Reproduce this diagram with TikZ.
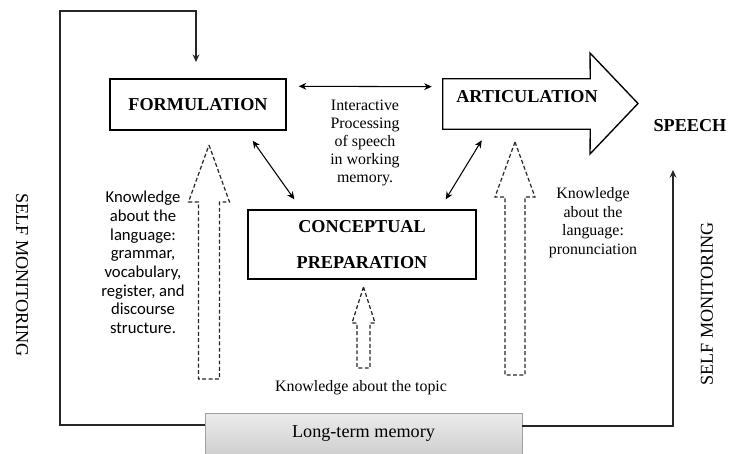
\documentclass[tikz,border=0pt]{standalone}
\usepackage{fontspec}
\setmainfont{Liberation Serif}
\newfontfamily\calibri{Carlito}
\usetikzlibrary{positioning,calc,arrows.meta}

\begin{document}
\begin{tikzpicture}[x=0.66pt,y=-0.66pt,
		stagebox/.style={rectangle, draw=black, line width=0.9pt, inner sep=2pt, font=\fontsize{12}{14}\selectfont\bfseries},
		bigtext/.style={font=\fontsize{12}{14}\selectfont},
		note/.style={align=center, inner sep=0pt, font=\fontsize{10.5}{11.8}\selectfont},
		dbl/.style={{Stealth[length=5pt,width=4.5pt]}-{Stealth[length=5pt,width=4.5pt]}, line width=0.7pt},
		loopline/.style={draw=black!85, line width=0.9pt, -{Stealth[length=5pt,width=4.5pt]}},
		kbarrow/.style={draw=black!85, line width=0.8pt, dash pattern=on 2.6pt off 1.6pt}]
	\useasboundingbox (0,0) rectangle (732,454);
	% stages
	\node[stagebox, minimum width=116.2pt, minimum height=33.7pt] (form) at (198,104.5) {FORMULATION};
	\node[rectangle, minimum width=97pt, minimum height=33pt] (artic) at (516.5,104) {};
	\draw[line width=0.9pt] (artic.south west) -- (artic.north west) -- (artic.north east) -- (590,53) -- (638,103.5) -- (590,154) -- (artic.south east) -- cycle;
	\node[bigtext, font=\fontsize{12}{14}\selectfont\bfseries] (artlbl) at (527,97) {ARTICULATION};
	\node[stagebox, align=center, minimum width=150.5pt, minimum height=45.5pt] (concept) at (362,244.5) {CONCEPTUAL\\[9.8pt]PREPARATION};
	\node[bigtext, font=\fontsize{12}{14}\selectfont\bfseries] (speech) at (690,126) {SPEECH};
	\node[note] (inter) at (365,143) {Interactive\\Processing\\of speech\\in working\\memory.};
	% interaction arrows
	\draw[dbl] ([shift={(12,8)}]form.north east) -- ([shift={(-11,8)}]artic.north west);
	\draw[dbl] ([shift={(-34,10)}]form.south east) -- ([shift={(47,-10)}]concept.north west);
	\draw[dbl] ([shift={(39,11)}]artic.south west) -- ([shift={(-31,-10)}]concept.north east);
	% knowledge sources
	\foreach \cx/\ty/\by/\bot/\sw/\hw in {209/145/202/379/10.5/20.5, 363.5/287/323/368/6.5/11.5, 515/142/197/375/10/20}
		\draw[kbarrow] (\cx,\ty) -- (\cx+\hw,\by) -- (\cx+\sw,\by) -- (\cx+\sw,\bot) -- (\cx-\sw,\bot) -- (\cx-\sw,\by) -- (\cx-\hw,\by) -- cycle;
	\node[note, font=\calibri\fontsize{11}{12.3}\selectfont] (langknow) at (143,262.5) {Knowledge\\about the\\language:\\grammar,\\vocabulary,\\register, and\\discourse\\structure.};
	\node[note, font=\fontsize{10.5}{12.2}\selectfont] (pronknow) at (593,222.5) {Knowledge\\about the\\language:\\pronunciation};
	\node[note] (topic) at (361,388) {Knowledge about the topic};
	\node[bigtext, draw=gray!75, top color=gray!15, bottom color=gray!38, minimum width=209.2pt, minimum height=27.7pt] (ltm) at (363.5,434) {Long-term memory};
	% self monitoring loops
	\coordinate (fb) at (196,62);
	\coordinate (sm) at (673,170);
	\draw[loopline] ([shift={(0,-9)}]ltm.west) -| (60,11) -| (fb);
	\draw[loopline] ([shift={(0,-8)}]ltm.east) -| (sm);
	\node[bigtext, rotate=-90] (selfl) at (22,275) {SELF MONITORING};
	\node[bigtext, rotate=90] (selfr) at (707,304) {SELF MONITORING};
\end{tikzpicture}
\end{document}
